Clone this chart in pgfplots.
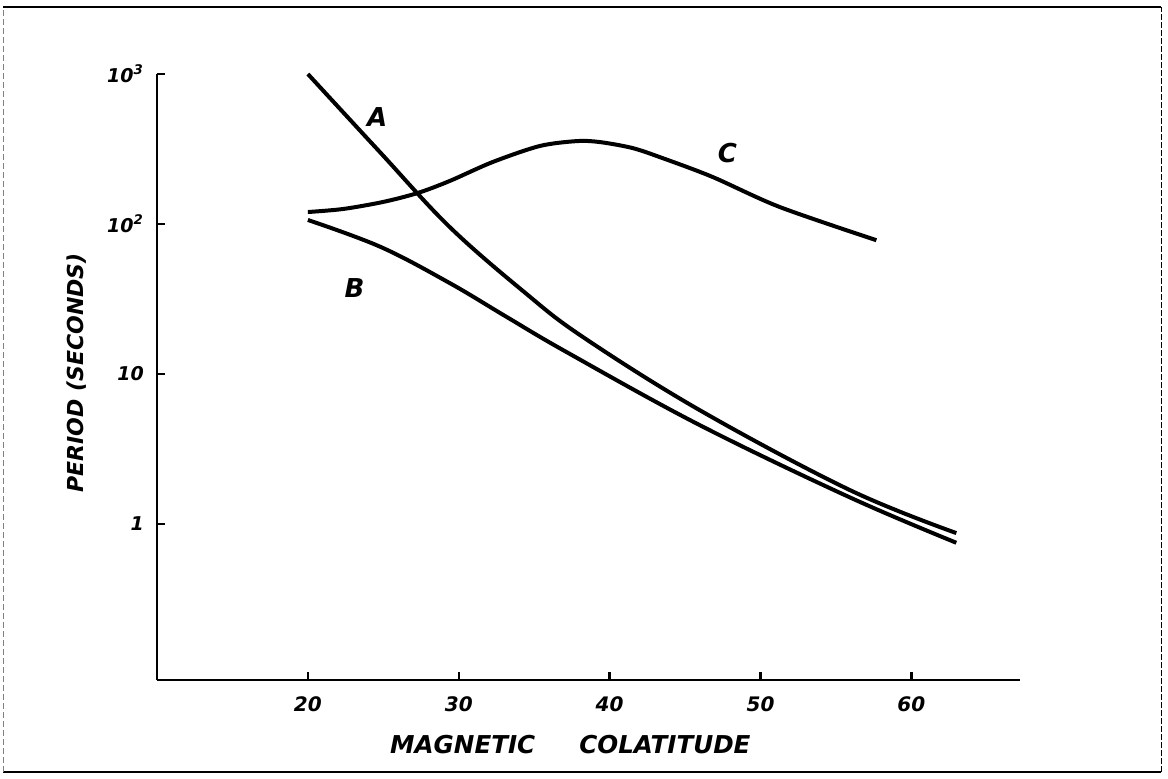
\documentclass[border=0pt]{standalone}
\usepackage{pgfplots}
\pgfplotsset{compat=1.18}
\usepackage{fontspec}
\setmainfont{DejaVu Sans}
\newcommand{\hl}{\bfseries\itshape}
\begin{document}
\begin{tikzpicture}
\useasboundingbox (0pt,0pt) rectangle (584pt,389pt);
% frame
\draw[line width=1.3pt] (1.5pt,385.5pt) -- (580.5pt,385.5pt);
\draw[line width=0.8pt] (1.5pt,3pt) -- (580.5pt,3pt);
\draw[line width=0.3pt, gray, dash pattern=on 3pt off 1.5pt] (1.5pt,3pt) -- (1.5pt,385.5pt);
\draw[line width=0.4pt, dash pattern=on 3pt off 1pt] (580.5pt,3pt) -- (580.5pt,385.5pt);
\begin{axis}[
  at={(78.5pt,49pt)}, anchor=south west,
  scale only axis, width=431.5pt, height=303pt,
  xmin=10, xmax=67.2, ymode=log, ymin=0.0912, ymax=1000,
  axis x line*=bottom, axis y line*=left,
  axis line style={-, line width=1.4pt},
  tick pos=left,
  xtick={20,30,40,50,60}, ytick={1,10,100,1000},
  yticklabels={1,10,10\textsuperscript{2},10\textsuperscript{3}},
  yminorticks=false, xminorticks=false,
  tick align=inside, major tick length=4pt,
  tick style={line width=1.2pt, black},
  /pgf/number format/assume math mode=true,
  xticklabel style={font=\hl\fontsize{10}{11}\selectfont, yshift=-5pt},
  yticklabel style={font=\hl\fontsize{9.5}{10}\selectfont, xshift=-3pt},
  xlabel={\hl\fontsize{12.3}{13}\selectfont MAGNETIC\hspace{22pt}COLATITUDE},
  ylabel={\hl\fontsize{11}{12}\selectfont PERIOD (SECONDS)},
  xlabel style={at={(axis description cs:0.479,-0.107)}, anchor=center},
  ylabel style={at={(axis description cs:-0.093,0.507)}, anchor=center, rotate=0},
  clip=false,
]
% Curve A
\addplot[line width=2pt, black, no marks, smooth, tension=0.6] coordinates {(20.0,1000) (24.77,302) (29.40,95.5) (34.37,35) (38.21,17.7) (45.96,5.75) (55.89,1.69) (62.98,0.87)};
% Curve B
\addplot[line width=2pt, black, no marks, smooth, tension=0.6] coordinates {(20.0,106.4) (24.83,70.3) (29.40,40.4) (33.18,24.0) (37.15,14.0) (45.96,4.57) (55.89,1.51) (62.98,0.75)};
% Curve C
\addplot[line width=2pt, black, no marks, smooth, tension=0.5] coordinates {(20.0,120.2) (22.32,125.9) (24.97,140.2) (27.28,161) (29.40,193.6) (32.25,259) (35.36,331) (37.81,357) (39.34,352) (41.52,321) (43.51,275) (46.82,206) (51.26,130) (57.68,78)};
\node[font=\hl\fontsize{13}{14}\selectfont] at (axis cs:24.6,517) {A};
\node[font=\hl\fontsize{13}{14}\selectfont] at (axis cs:23.1,37.4) {B};
\node[font=\hl\fontsize{13}{14}\selectfont] at (axis cs:47.8,297) {C};
\end{axis}
\end{tikzpicture}
\end{document}
